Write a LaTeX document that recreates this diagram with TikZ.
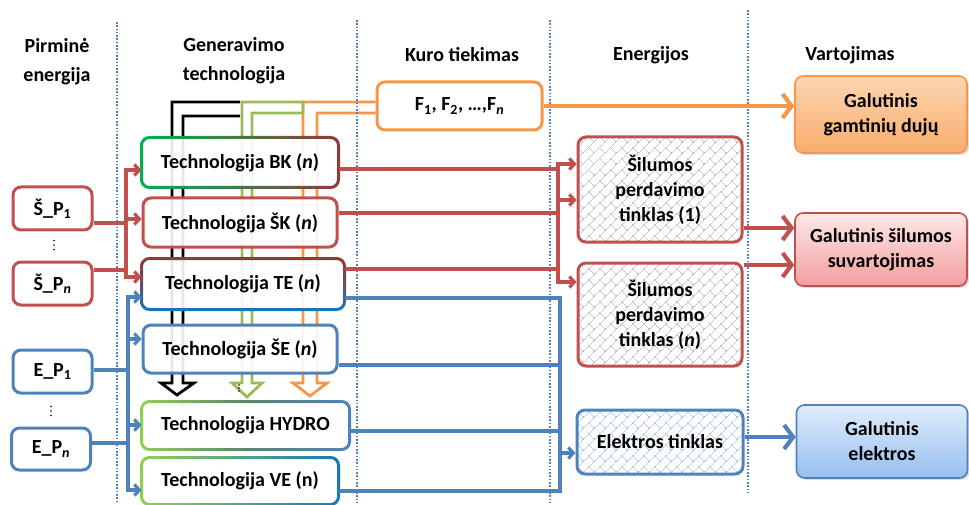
\documentclass[tikz,border=0pt]{standalone}
\usepackage{fontspec}
\setmainfont{Carlito}
\usetikzlibrary{arrows.meta,patterns.meta,shadows}

\definecolor{cred}{RGB}{192,80,77}
\definecolor{cblue}{RGB}{79,129,189}
\definecolor{corange}{RGB}{247,150,70}
\definecolor{cgreen}{RGB}{155,187,89}
\definecolor{cbright}{RGB}{0,176,80}
\definecolor{clime}{RGB}{146,208,80}
\definecolor{cdark}{RGB}{149,55,53}
\definecolor{cteal}{RGB}{20,120,190}

\pgfdeclarelayer{pipes}
\pgfsetlayers{pipes,main}

% diagonal brick hatching for the network boxes
\tikzdeclarepattern{
  name=brickdiag,
  type=uncolored,
  bounding box={(-0.5pt,-0.5pt) and (11.5pt,11.5pt)},
  tile size={(11pt,11pt)},
  line width=0.5pt,
  code={
    \draw (-0.5pt,-0.5pt) -- (11.5pt,11.5pt);
    \draw (11pt,0pt) -- (5.5pt,5.5pt);
  }
}

% border ring filled with a shading, for boxes with a two-colour outline
\newcommand{\gradring}[2]{%
  \shade[#2, even odd rule, rounded corners=9.4pt]
    ([shift={(-1.5,-1.5)}]#1.north west) rectangle ([shift={(1.5,1.5)}]#1.south east)
    [rounded corners=6.5pt]
    ([shift={(1.5,1.5)}]#1.north west) rectangle ([shift={(-1.5,-1.5)}]#1.south east);}

% vertical ellipsis drawn as three dots
\newcommand{\threedots}[3]{%
  \foreach \k in {-1,0,1} {\fill[black] (#1,#2+\k*#3) circle (0.9pt);}}

\tikzset{
  txt/.style={font=\fontsize{20}{25}\selectfont\bfseries},
  hdr/.style={font=\fontsize{20}{29}\selectfont\bfseries, align=center, inner sep=0pt},
  box/.style={txt, rectangle, rounded corners=8pt, inner sep=0pt, align=center,
    line width=3pt},
  techbox/.style={box, fill=white, fill opacity=0.9, text opacity=1},
  netbox/.style={box, pattern={brickdiag}, pattern color=gray!45},
  endbox/.style={box, line width=1.6pt,
    drop shadow={opacity=0.25, shadow xshift=2pt, shadow yshift=-2pt}},
  sep/.style={cblue, line width=1.6pt, dash pattern=on 1.6pt off 1.7pt},
  pipe/.style={line width=2.8pt, line join=miter},
  conn/.style={line width=3.2pt, >={Straight Barb[length=5pt,width=11pt]}},
  redline/.style={conn, cred},
  blueline/.style={conn, cblue},
  outarrow/.style={line width=4.2pt, -{Straight Barb[length=9pt,width=24pt]}}
}

\begin{document}
\begin{tikzpicture}[x=1pt,y=-1pt]
\useasboundingbox (0,0) rectangle (969,505);

% column separators
\draw[sep] (117,22) -- (117,503);
\draw[sep] (357,20) -- (357,503);
\draw[sep] (550,20) -- (550,503);
\draw[sep] (748,10) -- (748,492);

% column headings
\node[hdr] (h1) at (57,61.5) {Pirminė\\energija};
\node[hdr] (h2) at (234,61) {Generavimo\\technologija};
\node[hdr] (h3) at (462,55) {Kuro tiekimas};
\node[hdr] (h4) at (651,55) {Energijos};
\node[hdr] (h5) at (850,55) {Vartojimas};

% primary energy
\node[box, draw=cred, fill=white, minimum width=79pt, minimum height=43pt] (sp1) at (52.5,208.5) {Š\_P\textsubscript{1}};
\node[box, draw=cred, fill=white, minimum width=79pt, minimum height=43pt] (spn) at (52.5,283.5) {Š\_P\textsubscript{\textit{n}}};
\node[box, draw=cblue, fill=white, minimum width=79pt, minimum height=43pt] (ep1) at (52.5,371.5) {E\_P\textsubscript{1}};
\node[box, draw=cblue, fill=white, minimum width=79pt, minimum height=42pt] (epn) at (51,449) {E\_P\textsubscript{\textit{n}}};
\threedots{54}{245}{4.5}
\threedots{51}{411}{4.5}

% generation technologies
\node[techbox, minimum width=194pt, minimum height=47pt] (bk) at (240,162.5) {Technologija BK (\textit{n})};
\node[techbox, draw=cred, minimum width=194pt, minimum height=49pt] (sk) at (240,222.5) {Technologija ŠK (\textit{n})};
\node[techbox, minimum width=200pt, minimum height=48pt] (te) at (243,284) {Technologija TE (\textit{n})};
\node[techbox, draw=cblue, minimum width=194pt, minimum height=48pt] (se) at (240,349) {Technologija ŠE (\textit{n})};
\node[techbox, minimum width=205pt, minimum height=45pt] (hydro) at (245.5,425.5) {Technologija HYDRO};
\node[techbox, minimum width=194pt, minimum height=44pt] (ve) at (240,481) {Technologija VE (n)};
\gradring{bk}{left color=cbright, right color=cdark, middle color=cbright!55!cdark}
\gradring{te}{top color=cdark, bottom color=cteal, middle color=cdark!60!cteal}
\gradring{hydro}{left color=clime, right color=cblue, middle color=clime!50!cblue!80!black}
\gradring{ve}{left color=clime, right color=cteal, middle color=clime!50!cteal}
\threedots{239}{388}{3}

% fuel supply
\node[box, draw=corange, fill=white, minimum width=165pt, minimum height=48pt] (fbox) at (459.5,106) {F\textsubscript{1}, F\textsubscript{2}, …,F\textsubscript{\textit{n}}};

% energy networks
\node[netbox, draw=cred, minimum width=164pt, minimum height=105pt] (s1) at (660,189.5) {Šilumos\\perdavimo\\tinklas (1)};
\node[netbox, draw=cred, minimum width=164pt, minimum height=103pt] (sn) at (660,314.5) {Šilumos\\perdavimo\\tinklas (\textit{n})};
\node[netbox, draw=cblue, pattern color=cblue!40, minimum width=166pt, minimum height=64pt] (el) at (660,442) {Elektros tinklas};

% final consumption
\node[endbox, draw=corange, top color={rgb,255:red,252;green,214;blue,178}, bottom color={rgb,255:red,249;green,172;blue,108}, minimum width=172pt, minimum height=77pt] (gg) at (881,114.5) {Galutinis\\gamtinių dujų};
\node[endbox, draw=cred, top color={rgb,255:red,255;green,232;blue,232}, bottom color={rgb,255:red,242;green,158;blue,158}, minimum width=172pt, minimum height=73pt] (gs) at (881,249.5) {Galutinis šilumos\\suvartojimas};
\node[endbox, draw=cblue, top color={rgb,255:red,224;green,237;blue,252}, bottom color={rgb,255:red,150;green,190;blue,238}, minimum width=171pt, minimum height=73pt] (gel) at (882,441.5) {Galutinis\\elektros};

% fuel pipes running down behind the technology boxes
\begin{pgfonlayer}{pipes}
\draw[pipe, black] (240,102) -- (172,102) -- (172,383) -- (161,383) -- (177,395) -- (194,383) -- (183,383) -- (183,116) -- (240,116);
\draw[pipe, corange] (fbox.west |- 0,102) -- (303,102) -- (303,383) -- (293,383) -- (310,396) -- (327,383) -- (317,383) -- (317,113) -- (fbox.west |- 0,113);
\draw[pipe, cgreen] (303,102) -- (242,102) -- (242,383) -- (232,383) -- (247,397) -- (262,383) -- (252,383) -- (252,113) -- (303,113) -- cycle;
\end{pgfonlayer}

% heat inputs
\draw[redline] (sp1.east |- 0,223) -- (126,223);
\draw[redline] (spn.east |- 0,270) -- (126,270);
\draw[redline,<->] (bk.west |- 0,170) -| (126,277) -- (te.west |- 0,277);
\draw[redline,->] (126,219) -- (sk.west |- 0,219);

% electricity inputs
\draw[blueline] (ep1.east |- 0,370) -- (128,370);
\draw[blueline] (epn.east |- 0,443) -- (128,443);
\draw[blueline,<->] (te.west |- 0,297) -| (128,490) -- (ve.west |- 0,490);
\draw[blueline,->] (128,339) -- (se.west |- 0,339);
\draw[blueline,->] (128,425) -- (hydro.west |- 0,425);

% heat outputs to the networks
\draw[redline] (bk.east |- 0,169) -- (558,169);
\draw[redline] (sk.east |- 0,213) -- (558,213);
\draw[redline] (te.east |- 0,269) -- (558,269);
\draw[redline,<->] (s1.west |- 0,164) -| (558,282) -- (sn.west |- 0,282);
\draw[redline,->] (558,200) -- (s1.west |- 0,200);

% electricity outputs to the grid
\draw[blueline] (te.east |- 0,298) -| (560,491) -- (ve.east |- 0,491);
\draw[blueline] (se.east |- 0,365) -- (560,365);
\draw[blueline] (hydro.east |- 0,431) -- (560,431);
\draw[blueline,->] (560,453) -- (el.west |- 0,453);

% final consumption links
\draw[outarrow, corange] (fbox.east) -- (fbox.east -| gg.west);
\draw[outarrow, cred] (s1.east |- 0,228) -- (gs.west |- 0,228);
\draw[outarrow, cred] (sn.east |- 0,265) -- (gs.west |- 0,265);
\draw[outarrow, cblue] (el.east |- 0,437) -- (gel.west |- 0,437);
\end{tikzpicture}
\end{document}
